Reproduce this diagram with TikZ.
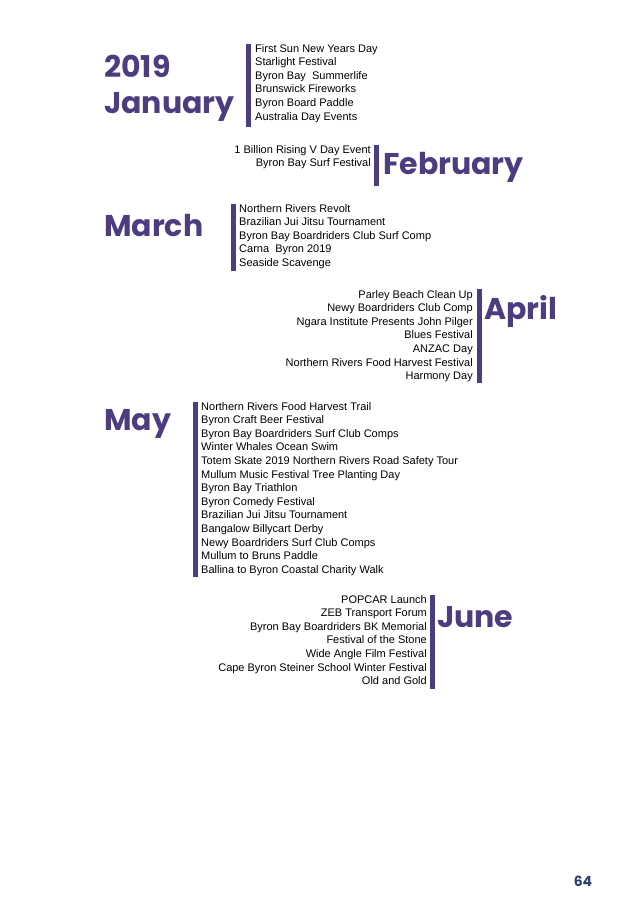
\documentclass[tikz,border=0pt]{standalone}
\usepackage{fontspec}
\setmainfont{Liberation Sans}
\newfontfamily\headfont{Poppins}
\usetikzlibrary{positioning}
\definecolor{monthpurple}{HTML}{4E3C80}
\definecolor{pageblue}{HTML}{2E3F6E}
\tikzset{
    month/.style={
           inner sep=0pt,
           text=monthpurple,
           font=\headfont\bfseries\fontsize{30}{40}\selectfont,
           },
    events/.style={
           inner sep=0pt,
           font=\fontsize{11}{13.6}\selectfont,
           },
    bar/.style={
           draw=monthpurple, line width=5pt,
           },
}
\begin{document}
\begin{tikzpicture}[x=1pt,y=-1pt]
 \useasboundingbox (0,0) rectangle (638,900);

 % January
 \coordinate (JANtop) at (248,44);
 \coordinate (JANbot) at (248,127);
 \node[month, anchor=west, align=left] (JAN) at (104,88)
 {2019\\[-4pt]January};
 \node[events, anchor=north west, align=left] (JANev) at (255,44)
 {First Sun New Years Day\\Starlight Festival\\Byron Bay\ \ Summerlife\\Brunswick Fireworks\\Byron Board Paddle\\Australia Day Events};
 \draw[bar] (JANtop) -- (JANbot);

 % February
 \coordinate (FEBtop) at (376,145);
 \coordinate (FEBbot) at (376,186);
 \node[events, anchor=north east, align=right] (FEBev) at (371,145)
 {1 Billion Rising V Day Event\\Byron Bay Surf Festival};
 \node[month, anchor=west] (FEB) at (383,167) {February};
 \draw[bar] (FEBtop) -- (FEBbot);

 % March
 \coordinate (MARtop) at (233,204);
 \coordinate (MARbot) at (233,271);
 \node[month, anchor=west] (MAR) at (104,226) {March};
 \node[events, anchor=north west, align=left] (MARev) at (239,204)
 {Northern Rivers Revolt\\Brazilian Jui Jitsu Tournament\\Byron Bay Boardriders Club Surf Comp\\Carna\ \ Byron 2019\\Seaside Scavenge};
 \draw[bar] (MARtop) -- (MARbot);

 % April
 \coordinate (APRtop) at (479,289);
 \coordinate (APRbot) at (479,383);
 \node[events, anchor=north east, align=right] (APRev) at (473,290)
 {Parley Beach Clean Up\\Newy Boardriders Club Comp\\Ngara Institute Presents John Pilger\\Blues Festival\\ANZAC Day\\Northern Rivers Food Harvest Festival\\Harmony Day};
 \node[month, anchor=west] (APR) at (484,311) {April};
 \draw[bar] (APRtop) -- (APRbot);

 % May
 \coordinate (MAYtop) at (195,402);
 \coordinate (MAYbot) at (195,577);
 \node[month, anchor=west] (MAY) at (104,424) {May};
 \node[events, anchor=north west, align=left] (MAYev) at (201,402)
 {Northern Rivers Food Harvest Trail\\Byron Craft Beer Festival\\Byron Bay Boardriders Surf Club Comps\\Winter Whales Ocean Swim\\Totem Skate 2019 Northern Rivers Road Safety Tour\\Mullum Music Festival Tree Planting Day\\Byron Bay Triathlon\\Byron Comedy Festival\\Brazilian Jui Jitsu Tournament\\Bangalow Billycart Derby\\Newy Boardriders Surf Club Comps\\Mullum to Bruns Paddle\\Ballina to Byron Coastal Charity Walk};
 \draw[bar] (MAYtop) -- (MAYbot);

 % June
 \coordinate (JUNtop) at (432,595);
 \coordinate (JUNbot) at (432,689);
 \node[events, anchor=north east, align=right] (JUNev) at (427,595)
 {POPCAR Launch\\ZEB Transport Forum\\Byron Bay Boardriders BK Memorial\\Festival of the Stone\\Wide Angle Film Festival\\Cape Byron Steiner School Winter Festival\\Old and Gold};
 \node[month, anchor=west] (JUN) at (437,617) {June};
 \draw[bar] (JUNtop) -- (JUNbot);

 % page number
 \node[inner sep=0pt, text=pageblue, font=\headfont\bfseries\fontsize{14}{16}\selectfont] (PAGE) at (583,881) {64};
\end{tikzpicture}
\end{document}
